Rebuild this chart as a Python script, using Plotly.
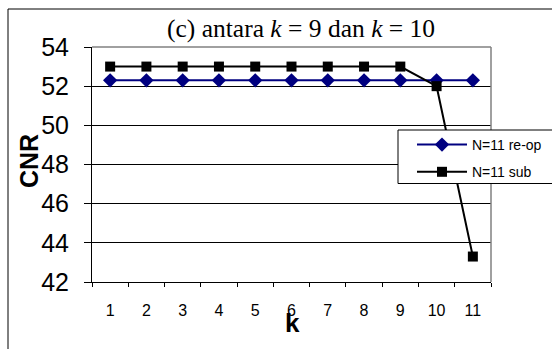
import plotly.graph_objects as go

k_values = ["1", "2", "3", "4", "5", "6", "7", "8", "9", "10", "11"]
reop_cnr = [52.3, 52.3, 52.3, 52.3, 52.3, 52.3, 52.3, 52.3, 52.3, 52.3, 52.3]
sub_cnr = [53.0, 53.0, 53.0, 53.0, 53.0, 53.0, 53.0, 53.0, 53.0, 52.0, 43.3]
y_ticks = [42, 44, 46, 48, 50, 52, 54]

W, H = 552, 349
L, R, T, B = 92, 61, 47, 67
PW, PH = W - L - R, H - T - B


def px(x):
    return (x - L) / PW


def py(y):
    return (H - B - y) / PH


fig = go.Figure()
fig.add_trace(go.Scatter(
    x=k_values, y=reop_cnr, name="N=11 re-op", mode="lines+markers",
    line=dict(color="#000080", width=2),
    marker=dict(symbol="diamond", size=11, color="#000080"),
    legendgroup="a"))
fig.add_trace(go.Scatter(
    x=k_values, y=sub_cnr, name="N=11 sub", mode="lines+markers",
    line=dict(color="black", width=2),
    marker=dict(symbol="square", size=10, color="black"),
    legendgroup="b"))

fig.update_layout(
    width=W, height=H,
    margin=dict(l=L, r=R, t=T, b=B, autoexpand=False),
    paper_bgcolor="white", plot_bgcolor="white",
    font=dict(family="Liberation Sans, Arial", color="black"),
    showlegend=True,
    legend=dict(x=px(412), y=py(129), xanchor="left", yanchor="top",
                bgcolor="rgba(0,0,0,0)", borderwidth=0,
                font=dict(size=14, family="Liberation Sans, Arial"),
                traceorder="grouped", tracegroupgap=6, itemwidth=50),
    xaxis=dict(type="category", range=[-0.5, 10.5], tickson="boundaries",
               ticks="outside", ticklen=4, tickcolor="black", tickwidth=1,
               showline=True, linecolor="black", linewidth=1,
               showgrid=False, tickfont=dict(size=16),
               ticklabelstandoff=14, fixedrange=True),
    yaxis=dict(range=[42, 54], tickvals=y_ticks, ticks="outside", ticklen=7,
               tickcolor="black", tickwidth=1,
               showline=True, linecolor="black", linewidth=1,
               showgrid=True, gridcolor="black", gridwidth=1,
               zeroline=False, tickfont=dict(size=25),
               ticklabelstandoff=10, fixedrange=True),
)

# outer chart border (extends beyond the visible page on right/bottom)
fig.add_shape(type="rect", xref="paper", yref="paper",
              x0=px(8), x1=px(W + 20), y0=py(H + 20), y1=py(9),
              line=dict(color="black", width=1), fillcolor="rgba(0,0,0,0)",
              layer="below")
# plot area top and right borders (gray)
fig.add_shape(type="line", xref="paper", yref="paper", x0=0, x1=1, y0=1, y1=1,
              line=dict(color="#808080", width=1.5), layer="above")
fig.add_shape(type="line", xref="paper", yref="paper", x0=1, x1=1, y0=0, y1=1,
              line=dict(color="#808080", width=1.5), layer="above")
# legend box
fig.add_shape(type="rect", xref="paper", yref="paper",
              x0=px(398), x1=px(W + 20), y0=py(183.5), y1=py(130),
              line=dict(color="black", width=1), fillcolor="white",
              layer="above")

fig.add_annotation(text="(c) antara <i>k</i> = 9 dan <i>k</i> = 10",
                   xref="paper", yref="paper", x=px(301), y=py(29),
                   xanchor="center", yanchor="middle", showarrow=False,
                   font=dict(family="Liberation Serif, Times New Roman",
                             size=25.5, color="black"))
fig.add_annotation(text="<b>CNR</b>", xref="paper", yref="paper",
                   x=px(29), y=py(161), xanchor="center", yanchor="middle",
                   textangle=-90, showarrow=False,
                   font=dict(size=25, color="black"))
fig.add_annotation(text="<b>k</b>", xref="paper", yref="paper",
                   x=px(292), y=py(323), xanchor="center", yanchor="middle",
                   showarrow=False, font=dict(size=26, color="black"))

fig.write_html("out.html")
